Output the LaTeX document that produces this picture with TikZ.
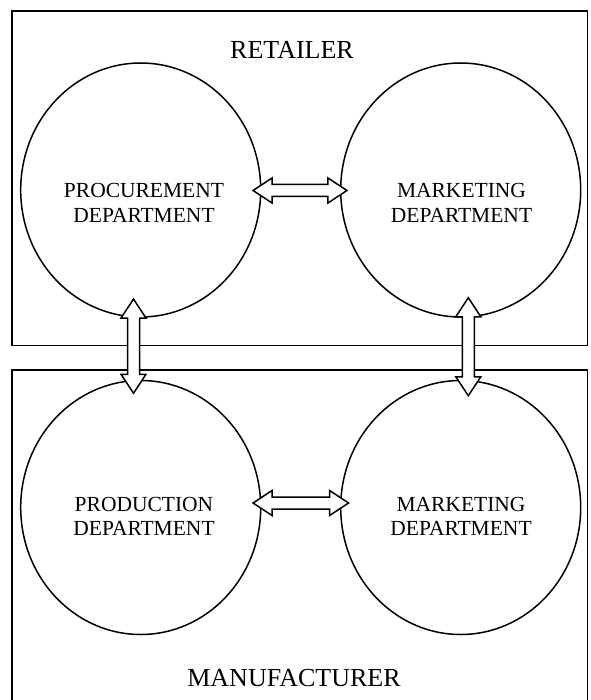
\documentclass[tikz,border=0pt]{standalone}
\usepackage{fontspec}
\setmainfont{Liberation Serif}
\usetikzlibrary{shapes.geometric,calc}
\tikzset{
  dept/.style={ellipse, draw, line width=1.5pt, minimum width=240pt, minimum height=254pt, inner sep=0pt},
  depttext/.style={align=center, font=\fontsize{21.5}{24.5}\selectfont, inner sep=0pt, anchor=north},
  titletext/.style={font=\fontsize{26}{30}\selectfont, inner sep=0pt, anchor=base},
  frame/.style={line width=1.7pt},
  darrow/.style={draw=black, fill=white, line width=1.5pt, line join=miter},
}
\newcommand\harrow[2]{%
  \draw[darrow] (#1) -- ($(#1)+(19,-12.5)$) -- ($(#1)+(19,-6)$) -- ($(#2)+(-19,-6)$) -- ($(#2)+(-19,-12.5)$) -- (#2)
    -- ($(#2)+(-19,12.5)$) -- ($(#2)+(-19,6)$) -- ($(#1)+(19,6)$) -- ($(#1)+(19,12.5)$) -- cycle;}
\newcommand\varrow[2]{%
  \draw[darrow] (#1) -- ($(#1)+(12.5,19)$) -- ($(#1)+(6,19)$) -- ($(#2)+(6,-19)$) -- ($(#2)+(12.5,-19)$) -- (#2)
    -- ($(#2)+(-12.5,-19)$) -- ($(#2)+(-6,-19)$) -- ($(#1)+(-6,19)$) -- ($(#1)+(-12.5,19)$) -- cycle;}
\begin{document}
\begin{tikzpicture}[x=1pt,y=-1pt]
  \useasboundingbox (0,0) rectangle (590,700);
  % frames
  \draw[frame] (12,11) rectangle (587.5,345.5);
  \draw[frame] (12,705) -- (12,370) -- (587.5,370) -- (587.5,705);
  \node[titletext] (retailer) at (292,59) {RETAILER};
  \node[titletext] (manufacturer) at (294,686) {MANUFACTURER};
  % departments
  \node[dept] (proc) at (140.7,190) {};
  \node[dept] (rmark) at (460.7,190) {};
  \node[dept] (prod) at (140.7,507.5) {};
  \node[dept] (mmark) at (460.7,507.5) {};
  \node[depttext] (proct) at (144,183.3) {PROCUREMENT\\DEPARTMENT};
  \node[depttext] (rmarkt) at (461.5,183.3) {MARKETING\\DEPARTMENT};
  \node[depttext] (prodt) at (144,496.7) {PRODUCTION\\DEPARTMENT};
  \node[depttext] (mmarkt) at (461,496.7) {MARKETING\\DEPARTMENT};
  % arrow ends
  \coordinate (a1) at ($(proc.east)+(-8.4,0.5)$);
  \coordinate (a2) at ($(rmark.west)+(7,0.5)$);
  \coordinate (b1) at ($(prod.east)+(-8.4,-4.5)$);
  \coordinate (b2) at ($(mmark.west)+(8.6,-4.5)$);
  \coordinate (c1) at ($(proc.south)+(-7.2,-18.7)$);
  \coordinate (c2) at ($(prod.north)+(-7.2,13.5)$);
  \coordinate (d1) at ($(rmark.south)+(7.6,-20)$);
  \coordinate (d2) at ($(mmark.north)+(7.6,16)$);
  \harrow{a1}{a2}
  \harrow{b1}{b2}
  \varrow{c1}{c2}
  \varrow{d1}{d2}
\end{tikzpicture}
\end{document}
